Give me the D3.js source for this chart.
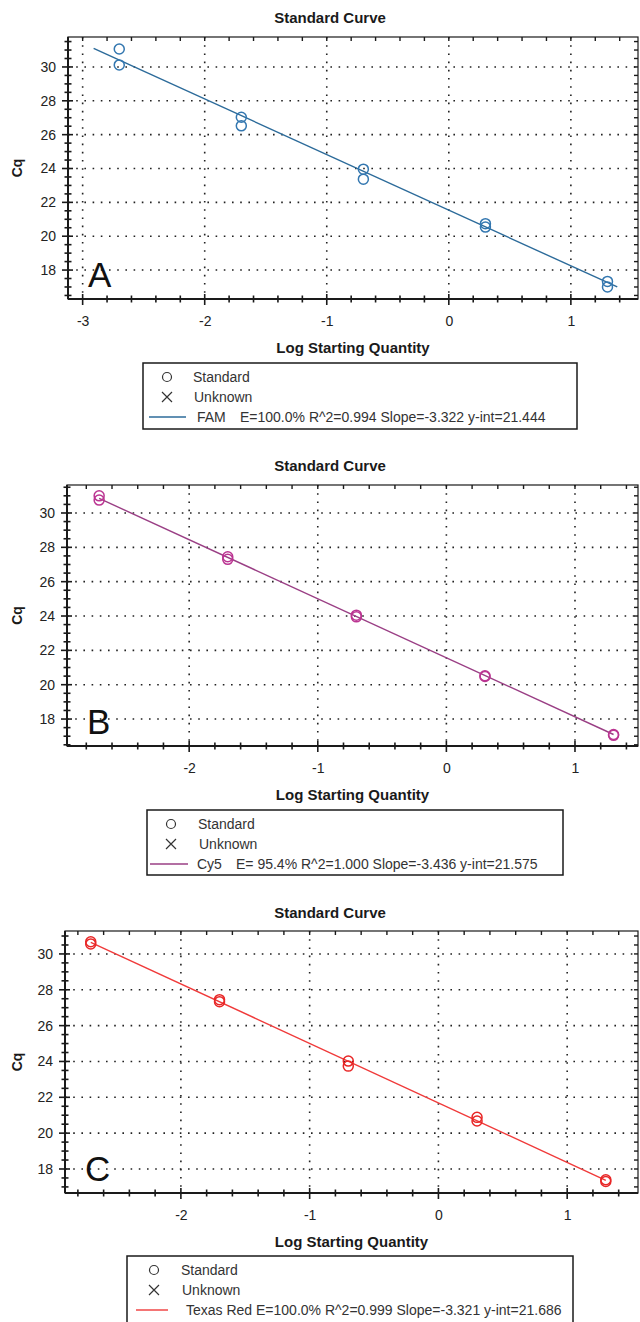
<!DOCTYPE html>
<html>
<head>
<meta charset="utf-8">
<script src="https://cdn.jsdelivr.net/npm/d3@7"></script>
<style>
  body { margin: 0; background: #fff; }
  svg { display: block; font-family: "Liberation Sans", Arial, sans-serif; }
</style>
</head>
<body>
<div id="chart"></div>
<script>
// values
const logQty = [-2.7, -1.7, -0.7, 0.3, 1.3];
const famCqA = [31.06, 27.03, 23.96, 20.74, 17.33];
const famCqB = [30.12, 26.52, 23.37, 20.54, 17.0];
const cy5CqA = [31.0, 27.45, 24.05, 20.52, 17.1];
const cy5CqB = [30.75, 27.3, 23.95, 20.48, 17.05];
const texasCqA = [30.68, 27.45, 24.02, 20.88, 17.4];
const texasCqB = [30.56, 27.33, 23.74, 20.68, 17.3];
const famFit = [[-2.91, 31.1], [1.38, 17.0]];
const cy5Fit = [[-2.7, 30.85], [1.3, 17.1]];
const texasFit = [[-2.7, 30.65], [1.3, 17.37]];
const seriesNames = ["FAM", "Cy5", "Texas Red"];
const seriesStats = [
  "E=100.0% R^2=0.994 Slope=-3.322 y-int=21.444",
  "E= 95.4% R^2=1.000 Slope=-3.436 y-int=21.575",
  "E=100.0% R^2=0.999 Slope=-3.321 y-int=21.686"
];
const panelLetters = ["A", "B", "C"];
const xTicks = [-3, -2, -1, 0, 1];
const yTicks = [18, 20, 22, 24, 26, 28, 30];
const xDomains = [[-3.12, 1.55], [-2.95, 1.49], [-2.9, 1.55]];
const yDomains = [[16.29, 31.77], [16.43, 31.63], [16.66, 31.28]];

// layout of each panel on the page
const layout = [
  { left: 68, right: 638, top: 37, bottom: 299, titleY: 23,
    lg: { x0: 143, x1: 577, y0: 363, y1: 429, sym: 167, txt: 193, l0: 149, l1: 186, name: 197, stats: 240 },
    line: "#2c6b9a", dot: "#3377b0" },
  { left: 67, right: 638, top: 485, bottom: 746, titleY: 471,
    lg: { x0: 147, x1: 563, y0: 810, y1: 875, sym: 171, txt: 198, l0: 150, l1: 188, name: 197, stats: 236 },
    line: "#9a3f85", dot: "#bb3592" },
  { left: 65, right: 638, top: 931, bottom: 1193, titleY: 918,
    lg: { x0: 127, x1: 573, y0: 1256, y1: 1340, sym: 154, txt: 181, l0: 136, l1: 168, name: 186, stats: null },
    line: "#f03a3a", dot: "#e82626" }
];

const series = [
  { a: famCqA, b: famCqB, fit: famFit },
  { a: cy5CqA, b: cy5CqB, fit: cy5Fit },
  { a: texasCqA, b: texasCqB, fit: texasFit }
];

const svg = d3.select("#chart").append("svg")
  .attr("width", 640)
  .attr("height", 1322);

const ink = "#1a1a1a";

layout.forEach((L, i) => {
  const g = svg.append("g");
  const x = d3.scaleLinear().domain(xDomains[i]).range([L.left, L.right]);
  const y = d3.scaleLinear().domain(yDomains[i]).range([L.bottom, L.top]);

  const xt = xTicks.filter(v => v >= xDomains[i][0] && v <= xDomains[i][1]);
  const xMinor = d3.range(Math.ceil(xDomains[i][0] * 5), Math.floor(xDomains[i][1] * 5) + 1).map(v => v / 5);
  const yMinor = d3.range(Math.ceil(yDomains[i][0] * 2), Math.floor(yDomains[i][1] * 2) + 1).map(v => v / 2);

  // title
  g.append("text")
    .attr("x", 330).attr("y", L.titleY)
    .attr("text-anchor", "middle")
    .style("font-weight", "bold").style("font-size", "15px")
    .attr("fill", ink)
    .text("Standard Curve");

  // dotted grid
  g.selectAll(".gx").data(xt).enter().append("line")
    .attr("x1", d => x(d)).attr("x2", d => x(d))
    .attr("y1", L.top).attr("y2", L.bottom)
    .attr("stroke", "#222").attr("stroke-width", 1.6)
    .attr("stroke-dasharray", "1.6 6.6");
  g.selectAll(".gy").data(yTicks).enter().append("line")
    .attr("x1", L.left).attr("x2", L.right)
    .attr("y1", d => y(d)).attr("y2", d => y(d))
    .attr("stroke", "#222").attr("stroke-width", 1.6)
    .attr("stroke-dasharray", "1.6 6.6");

  // frame
  g.append("rect")
    .attr("x", L.left).attr("y", L.top)
    .attr("width", L.right - L.left).attr("height", L.bottom - L.top)
    .attr("fill", "none").attr("stroke", ink).attr("stroke-width", 1.2);
  g.append("line").attr("x1", L.left).attr("x2", L.right)
    .attr("y1", L.bottom).attr("y2", L.bottom)
    .attr("stroke", ink).attr("stroke-width", 2);
  g.append("line").attr("x1", L.left).attr("x2", L.left)
    .attr("y1", L.top).attr("y2", L.bottom)
    .attr("stroke", ink).attr("stroke-width", 2);

  // bottom ticks crossing the axis
  g.selectAll(".tbx").data(xMinor).enter().append("line")
    .attr("x1", d => x(d)).attr("x2", d => x(d))
    .attr("y1", d => L.bottom - (xt.includes(d) ? 5 : 3.5))
    .attr("y2", d => L.bottom + (xt.includes(d) ? 6 : 3.5))
    .attr("stroke", ink).attr("stroke-width", 1.6);
  // top ticks inside
  g.selectAll(".ttx").data(xMinor).enter().append("line")
    .attr("x1", d => x(d)).attr("x2", d => x(d))
    .attr("y1", L.top).attr("y2", L.top + 4)
    .attr("stroke", ink).attr("stroke-width", 1.4);
  // left ticks crossing the axis
  g.selectAll(".tly").data(yMinor).enter().append("line")
    .attr("y1", d => y(d)).attr("y2", d => y(d))
    .attr("x1", d => L.left - (yTicks.includes(d) ? 6 : 3.5))
    .attr("x2", d => L.left + (yTicks.includes(d) ? 5 : 3.5))
    .attr("stroke", ink).attr("stroke-width", 1.6);
  // right ticks inside
  g.selectAll(".try").data(yMinor).enter().append("line")
    .attr("y1", d => y(d)).attr("y2", d => y(d))
    .attr("x1", L.right - 4).attr("x2", L.right)
    .attr("stroke", ink).attr("stroke-width", 1.4);

  // tick labels via axes (plain hyphen minus like the source software)
  g.append("g")
    .attr("transform", `translate(0,${L.bottom})`)
    .call(d3.axisBottom(x).tickValues(xt).tickSize(0).tickPadding(17).tickFormat(d => String(d)))
    .call(a => a.select(".domain").remove())
    .selectAll("text")
    .style("font-size", "14px").style("font-family", "Liberation Sans, Arial, sans-serif")
    .attr("fill", "#222");
  g.append("g")
    .attr("transform", `translate(${L.left},0)`)
    .call(d3.axisLeft(y).tickValues(yTicks).tickSize(0).tickPadding(12).tickFormat(d => String(d)))
    .call(a => a.select(".domain").remove())
    .selectAll("text")
    .style("font-size", "14px").style("font-family", "Liberation Sans, Arial, sans-serif")
    .attr("fill", "#222");

  // axis titles
  g.append("text")
    .attr("x", (L.left + L.right) / 2).attr("y", L.bottom + 54)
    .attr("text-anchor", "middle")
    .style("font-weight", "bold").style("font-size", "15px")
    .attr("fill", ink)
    .text("Log Starting Quantity");
  g.append("text")
    .attr("transform", `translate(22,${(L.top + L.bottom) / 2}) rotate(-90)`)
    .attr("text-anchor", "middle")
    .style("font-weight", "bold").style("font-size", "14px")
    .attr("fill", ink)
    .text("Cq");

  // panel letter
  g.append("text")
    .attr("x", L.left + 20).attr("y", L.bottom - 12)
    .style("font-size", "35px")
    .attr("fill", "#111")
    .text(panelLetters[i]);

  // fit line
  const s = series[i];
  g.append("path")
    .datum(s.fit)
    .attr("d", d3.line().x(d => x(d[0])).y(d => y(d[1])))
    .attr("fill", "none").attr("stroke", L.line).attr("stroke-width", 1.4);

  // standards, two replicates each
  const pts = logQty.flatMap((q, k) => [[q, s.a[k]], [q, s.b[k]]]);
  g.selectAll(".pt").data(pts).enter().append("circle")
    .attr("cx", d => x(d[0])).attr("cy", d => y(d[1]))
    .attr("r", 5)
    .attr("fill", "none").attr("stroke", L.dot).attr("stroke-width", 1.5);

  // legend
  const lg = L.lg;
  const leg = g.append("g");
  leg.append("rect")
    .attr("x", lg.x0).attr("y", lg.y0)
    .attr("width", lg.x1 - lg.x0).attr("height", lg.y1 - lg.y0)
    .attr("fill", "#fff").attr("stroke", ink).attr("stroke-width", 1.5);
  const r1 = lg.y0 + 14, r2 = lg.y0 + 34, r3 = lg.y0 + 54;
  leg.append("circle").attr("cx", lg.sym).attr("cy", r1).attr("r", 4.5)
    .attr("fill", "none").attr("stroke", "#333").attr("stroke-width", 1.2);
  leg.append("path")
    .attr("d", `M${lg.sym - 5},${r2 - 5}L${lg.sym + 5},${r2 + 5}M${lg.sym + 5},${r2 - 5}L${lg.sym - 5},${r2 + 5}`)
    .attr("stroke", "#333").attr("stroke-width", 1.2);
  leg.append("line").attr("x1", lg.l0).attr("x2", lg.l1).attr("y1", r3).attr("y2", r3)
    .attr("stroke", L.line).attr("stroke-width", 1.4);
  const txt = (tx, ty, t) => leg.append("text").attr("x", tx).attr("y", ty + 5)
    .style("font-size", "14px").attr("fill", "#333").text(t);
  txt(lg.txt, r1, "Standard");
  txt(lg.txt + 1, r2, "Unknown");
  if (lg.stats === null) {
    txt(lg.name, r3, seriesNames[i] + " " + seriesStats[i]);
  } else {
    txt(lg.name, r3, seriesNames[i]);
    txt(lg.stats, r3, seriesStats[i]);
  }
});
</script>
</body>
</html>
